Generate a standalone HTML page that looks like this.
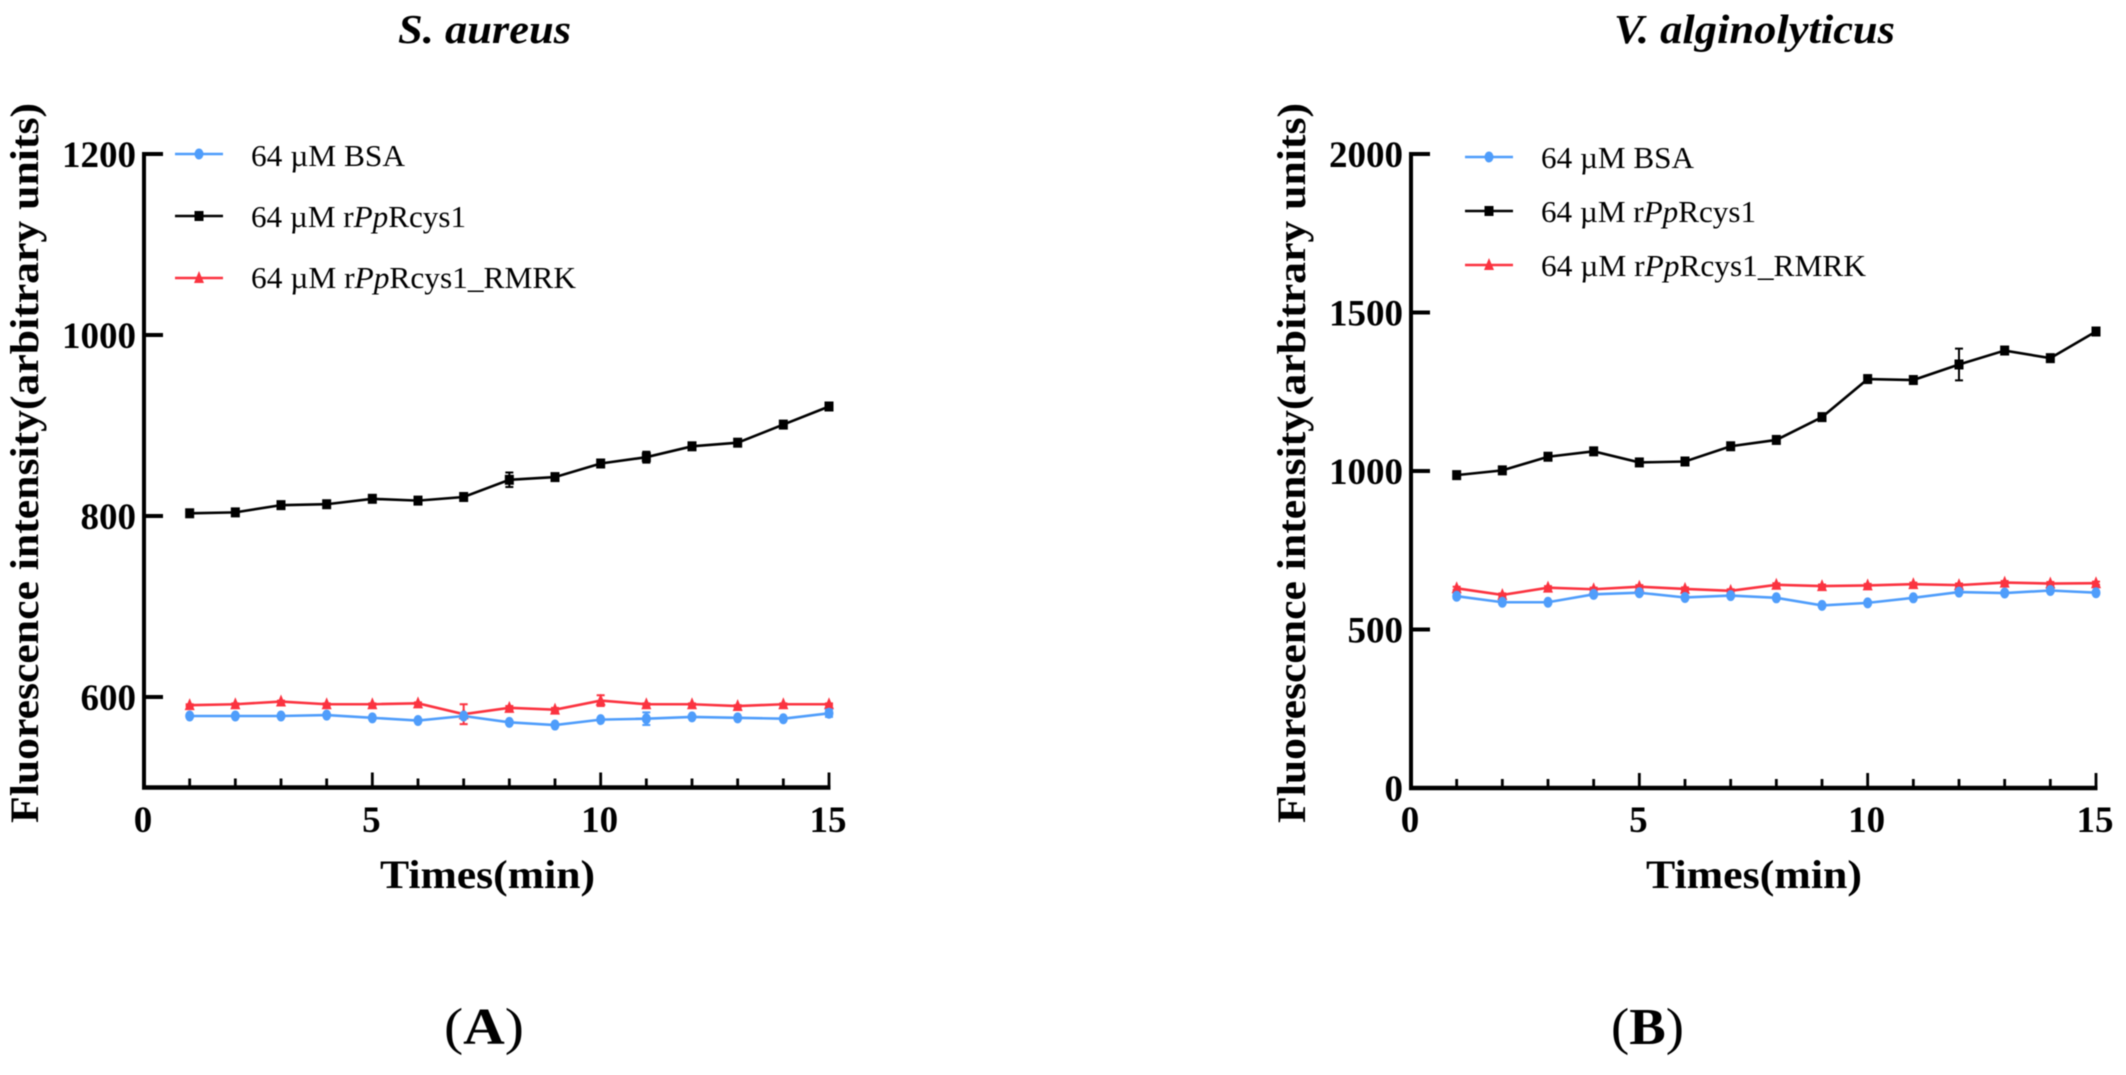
<!DOCTYPE html>
<html lang="en">
<head>
<meta charset="utf-8">
<title>Fluorescence intensity of S. aureus and V. alginolyticus</title>
<style>
  html, body { margin: 0; padding: 0; background: #fff; }
  #figure { display: block; width: 2126px; height: 1075px; filter: blur(0.6px); }
  text { font-family: "Liberation Serif", serif; fill: #000; }
  .bold { font-weight: bold; }
  .tick { font-size: 37px; font-weight: bold; }
  .legend { font-size: 31px; }
  .axis-title { font-size: 40px; font-weight: bold; }
  .panel-title { font-size: 41px; font-weight: bold; font-style: italic; }
  .panel-label { font-size: 52px; }
</style>
</head>
<body>
<svg id="figure" xmlns="http://www.w3.org/2000/svg" width="2126" height="1075" viewBox="0 0 2126 1075">
  <rect x="0" y="0" width="2126" height="1075" fill="#fff"/>

  <g id="panel-a">
    <text class="panel-title" x="398" y="43" textLength="173" lengthAdjust="spacingAndGlyphs">S. aureus</text>
    <text class="axis-title" transform="translate(38 463) rotate(-90)" text-anchor="middle" textLength="720" lengthAdjust="spacingAndGlyphs">Fluorescence intensity(arbitrary units)</text>
    <text class="axis-title" x="380" y="888" textLength="215" lengthAdjust="spacingAndGlyphs">Times(min)</text>
    <text class="legend" x="251" y="166" textLength="154" lengthAdjust="spacingAndGlyphs">64 µM BSA</text>
    <text class="legend" x="251" y="227" textLength="215" lengthAdjust="spacingAndGlyphs">64 µM r<tspan font-style="italic">Pp</tspan>Rcys1</text>
    <text class="legend" x="251" y="288" textLength="325" lengthAdjust="spacingAndGlyphs">64 µM r<tspan font-style="italic">Pp</tspan>Rcys1_RMRK</text>
    <text class="panel-label" x="444" y="1044" textLength="80" lengthAdjust="spacingAndGlyphs">(<tspan font-weight="bold">A</tspan>)</text>
  </g>

  <g id="panel-b">
    <text class="panel-title" x="1614" y="43" textLength="281" lengthAdjust="spacingAndGlyphs">V. alginolyticus</text>
    <text class="axis-title" transform="translate(1305 463) rotate(-90)" text-anchor="middle" textLength="720" lengthAdjust="spacingAndGlyphs">Fluorescence intensity(arbitrary units)</text>
    <text class="axis-title" x="1646" y="888" textLength="216" lengthAdjust="spacingAndGlyphs">Times(min)</text>
    <text class="legend" x="1541" y="168" textLength="153" lengthAdjust="spacingAndGlyphs">64 µM BSA</text>
    <text class="legend" x="1541" y="222" textLength="215" lengthAdjust="spacingAndGlyphs">64 µM r<tspan font-style="italic">Pp</tspan>Rcys1</text>
    <text class="legend" x="1541" y="276" textLength="325" lengthAdjust="spacingAndGlyphs">64 µM r<tspan font-style="italic">Pp</tspan>Rcys1_RMRK</text>
    <text class="panel-label" x="1611" y="1044" textLength="73" lengthAdjust="spacingAndGlyphs">(<tspan font-weight="bold">B</tspan>)</text>
  </g>
</svg>

<script>
// ---- data ----
var minutes = [1,2,3,4,5,6,7,8,9,10,11,12,13,14,15];
var xTickLabels = [0,5,10,15];

var aYTicks = [600,800,1000,1200];
var aBsa   = [579,579,579,580,577,574,579,572,569,575,576,578,577,576,582];
var aRcys  = [803,804,812,813,819,817,821,840,843,858,865,877,881,901,921];
var aRmrk  = [591,592,595,592,592,593,581,588,586,596,592,592,590,592,592];
var aBsaErr  = [1,1,1,1,1,1,2,1,1,1,7,1,1,1,4];
var aRcysErr = [2,2,2,2,2,2,2,8,2,2,6,2,2,2,3];
var aRmrkErr = [1,1,1,1,1,1,11,2,2,6,1,1,1,1,1];

var bYTicks = [0,500,1000,1500,2000];
var bBsa   = [605,586,586,611,616,601,607,600,576,584,600,618,615,623,616];
var bRcys  = [987,1002,1045,1062,1027,1030,1078,1098,1170,1290,1287,1336,1380,1356,1440];
var bRmrk  = [630,609,632,627,635,628,622,641,637,639,643,640,648,645,646];
var bBsaErr  = [6,5,5,5,5,5,5,5,5,5,5,5,5,5,5];
var bRcysErr = [5,5,5,5,5,5,5,5,5,5,5,50,5,5,5];
var bRmrkErr = [5,5,5,5,5,5,5,5,5,5,5,5,5,5,5];

// ---- drawing ----
var NS = 'http://www.w3.org/2000/svg';
var BLUE = '#4f9dfb', BLACK = '#000000', RED = '#fb3340';

function make(parent, tag, attrs) {
  var el = document.createElementNS(NS, tag);
  for (var k in attrs) { el.setAttribute(k, attrs[k]); }
  parent.appendChild(el);
  return el;
}
function linearScale(d0, d1, r0, r1) {
  return function (v) { return r0 + (v - d0) * (r1 - r0) / (d1 - d0); };
}

function drawMarker(parent, kind, cx, cy, color) {
  var m;
  if (kind === 'square') {
    m = make(parent, 'rect', { x: cx - 4.5, y: cy - 5, width: 9, height: 10, fill: color });
  } else if (kind === 'circle') {
    m = make(parent, 'ellipse', { cx: cx, cy: cy, rx: 4.5, ry: 5.5, fill: color });
  } else {
    m = make(parent, 'polygon', {
      points: (cx - 5) + ',' + (cy + 5) + ' ' + (cx + 5) + ',' + (cy + 5) + ' ' + cx + ',' + (cy - 7),
      fill: color
    });
  }
  
  
}

function drawSeries(group, name, values, errors, kind, color, sx, sy) {
  var g = make(group, 'g', {});
  
  

  var pts = [];
  for (var i = 0; i < minutes.length; i++) {
    pts.push(sx(minutes[i]) + ',' + sy(values[i]));
  }
  var line = make(g, 'polyline', { points: pts.join(' '), fill: 'none', stroke: color, 'stroke-width': 2.6 });
  
  

  for (var j = 0; j < minutes.length; j++) {
    var x = sx(minutes[j]);
    var hi = sy(values[j] + errors[j]);
    var lo = sy(values[j] - errors[j]);
    var bar = make(g, 'path', {
      d: 'M' + x + ' ' + hi + 'V' + lo + 'M' + (x - 4) + ' ' + hi + 'H' + (x + 4) + 'M' + (x - 4) + ' ' + lo + 'H' + (x + 4),
      fill: 'none', stroke: color, 'stroke-width': 2
    });
    
    
    drawMarker(g, kind, x, sy(values[j]), color);
  }
}

function drawAxes(group, cfg, sx, sy) {
  var axisY = sy(cfg.yMin);
  var yAxis = make(group, 'line', { x1: sx(0), x2: sx(0), y1: sy(cfg.yMax) - 2, y2: axisY + 2, stroke: '#000', 'stroke-width': 4 });
  
  
  var xAxis = make(group, 'line', { x1: sx(0) - 2, x2: sx(15) + 1.5, y1: axisY, y2: axisY, stroke: '#000', 'stroke-width': 4.5 });
  
  

  cfg.yTicks.forEach(function (v) {
    var y = sy(v);
    var t = make(group, 'line', { x1: sx(0), x2: sx(0) + 19, y1: y, y2: y, stroke: '#000', 'stroke-width': 4 });
    
    
    var lab = make(group, 'text', { x: sx(0) - 8, y: y + 13, 'text-anchor': 'end', 'class': 'tick' });
    
    
    lab.textContent = v;
  });

  minutes.forEach(function (m) {
    var major = xTickLabels.indexOf(m) >= 0;
    var t = make(group, 'line', { x1: sx(m), x2: sx(m), y1: axisY, y2: axisY - (major ? 15 : 9), stroke: '#000', 'stroke-width': 2.8 });
    
    
  });
  xTickLabels.forEach(function (m) {
    var lab = make(group, 'text', { x: sx(m) - 1, y: 832, 'text-anchor': 'middle', 'class': 'tick' });
    
    
    lab.textContent = m;
  });
}

function drawLegendKey(group, x0, x1, y, kind, color) {
  var l = make(group, 'line', { x1: x0, x2: x1, y1: y, y2: y, stroke: color, 'stroke-width': 2.6 });
  
  
  drawMarker(group, kind, (x0 + x1) / 2, y, color);
}

function drawPanel(cfg) {
  var group = document.getElementById(cfg.id);
  var sx = linearScale(0, 15, cfg.x0, cfg.x1);
  var sy = linearScale(cfg.yMax, cfg.yMin, 154, cfg.yBottom);
  drawAxes(group, cfg, sx, sy);
  drawSeries(group, 'series-rpprcys1', cfg.rcys, cfg.rcysErr, 'square', BLACK, sx, sy);
  drawSeries(group, 'series-rpprcys1-rmrk', cfg.rmrk, cfg.rmrkErr, 'triangle', RED, sx, sy);
  drawSeries(group, 'series-bsa', cfg.bsa, cfg.bsaErr, 'circle', BLUE, sx, sy);
  drawLegendKey(group, cfg.keyX0, cfg.keyX1, cfg.keyY[0], 'circle', BLUE);
  drawLegendKey(group, cfg.keyX0, cfg.keyX1, cfg.keyY[1], 'square', BLACK);
  drawLegendKey(group, cfg.keyX0, cfg.keyX1, cfg.keyY[2], 'triangle', RED);
}

drawPanel({
  id: 'panel-a', x0: 144, x1: 829, yBottom: 787.5, yMin: 500, yMax: 1200, yTicks: aYTicks,
  bsa: aBsa, rcys: aRcys, rmrk: aRmrk, bsaErr: aBsaErr, rcysErr: aRcysErr, rmrkErr: aRmrkErr,
  keyX0: 175, keyX1: 223, keyY: [154, 216, 278]
});
drawPanel({
  id: 'panel-b', x0: 1411, x1: 2096, yBottom: 788, yMin: 0, yMax: 2000, yTicks: bYTicks,
  bsa: bBsa, rcys: bRcys, rmrk: bRmrk, bsaErr: bBsaErr, rcysErr: bRcysErr, rmrkErr: bRmrkErr,
  keyX0: 1465, keyX1: 1513, keyY: [157, 211, 265]
});
</script>
</body>
</html>
